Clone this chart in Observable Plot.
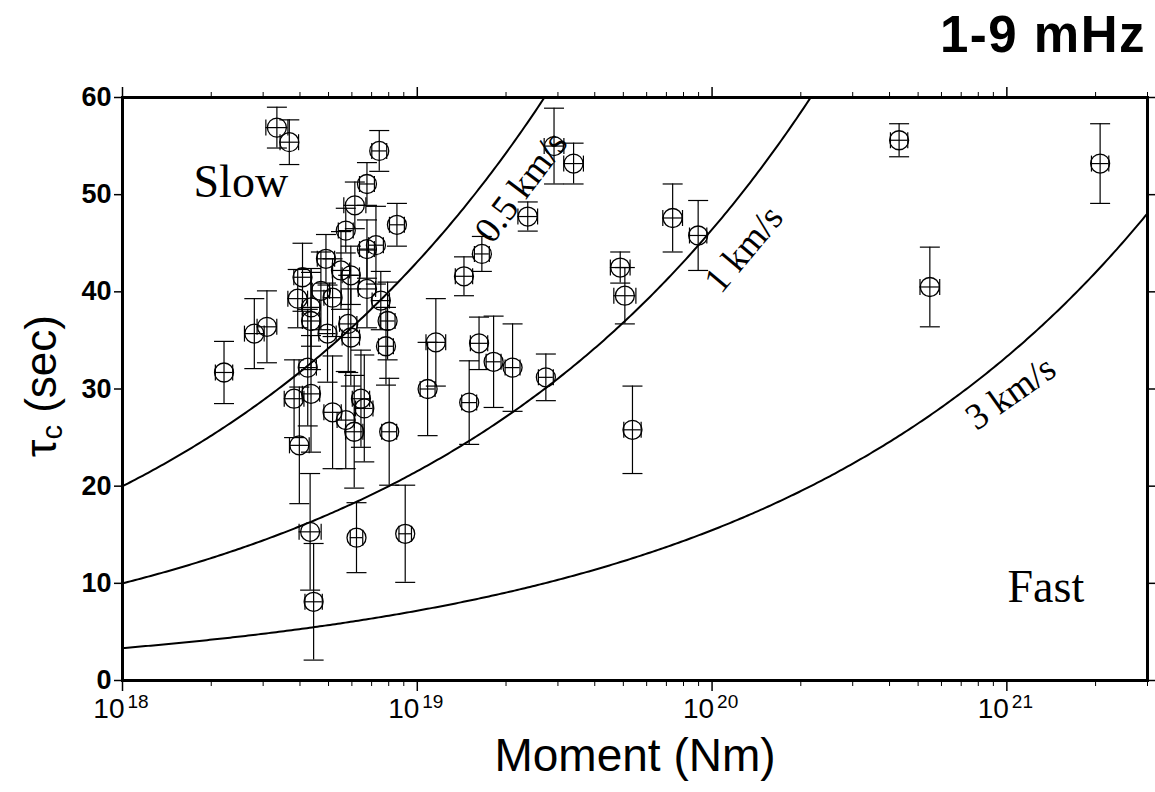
<!DOCTYPE html>
<html><head><meta charset="utf-8">
<script src="https://cdn.jsdelivr.net/npm/d3@7"></script>
<script src="https://cdn.jsdelivr.net/npm/@observablehq/plot@0.6"></script>
<style>
body{margin:0;background:#fff;}
#wrap{position:relative;width:1155px;height:792px;overflow:hidden;}
#title{position:absolute;right:9px;top:9px;font:bold 51px "Liberation Sans",Arial,Helvetica,sans-serif;letter-spacing:1.5px;line-height:1;}
</style></head><body>
<div id="wrap"><div id="chart"></div><div id="title">1-9 mHz</div></div>
<script>
// ---- data (moment in units of 1e18 Nm, tau in s) ----
const moment = [3.34,3.68,7.43,6.75,8.53,6.14,5.72,6.75,7.24,4.90,4.08,5.51,5.95,6.75,3.93,4.71,5.16,7.52,4.36,3.09,2.80,2.21,7.93,4.36,4.96,5.83,5.95,7.83,4.25,3.82,4.36,5.16,5.72,6.11,6.44,6.61,8.03,3.98,4.33,4.45,6.22,9.10,11.56,10.84,16.2,18.15,21.05,15.0,27.3,14.4,16.56,23.7,29.1,33.9,73.5,89.7,48.8,50.6,53.7,431,2072,548];
const tau = [56.9,55.4,54.5,51.1,46.9,48.9,46.3,44.4,44.8,43.4,41.5,42.2,41.7,40.3,39.3,40.1,39.4,39.1,38.4,36.4,35.7,31.7,37.0,37.0,35.7,36.7,35.3,34.4,32.2,29.0,29.5,27.6,26.8,25.6,29.0,28.0,25.6,24.2,15.3,8.1,14.7,15.1,34.8,30.0,34.7,32.8,32.2,28.6,31.2,41.6,43.9,47.75,55.0,53.2,47.6,45.8,42.5,39.6,25.8,55.6,53.2,40.5];
const tauErr = [2.1,2.3,2.1,2.2,2.2,2.4,2.3,3.0,4.0,2.5,3.5,4.0,3.0,4.0,3.0,4.0,4.0,3.0,4.0,3.7,3.6,3.2,4.0,5.0,5.0,5.0,5.0,4.0,6.0,4.0,6.0,5.8,5.0,5.8,5.0,5.5,5.5,6.0,6.0,6.0,3.6,5.0,4.5,4.8,2.7,4.7,4.5,4.3,2.4,2.0,1.8,1.5,3.9,2.1,3.5,3.6,1.6,2.9,4.5,1.7,4.1,4.1];
const momentErr = [0.09,0.075,0.06,0.06,0.06,0.09,0.06,0.06,0.06,0.07,0.07,0.07,0.07,0.07,0.08,0.07,0.07,0.07,0.07,0.08,0.08,0.07,0.06,0.07,0.07,0.07,0.07,0.06,0.07,0.08,0.07,0.07,0.07,0.07,0.07,0.07,0.06,0.08,0.09,0.07,0.05,0.05,0.08,0.06,0.07,0.06,0.06,0.06,0.06,0.07,0.06,0.08,0.08,0.08,0.08,0.07,0.08,0.09,0.07,0.07,0.07,0.08];
const velocities = [0.5, 1, 3];           // rupture-velocity model curves, km/s
const velocityLabels = ["0.5 km/s", "1 km/s", "3 km/s"];
const regionLabels = ["Slow", "Fast"];
const yTicks = [0, 10, 20, 30, 40, 50, 60];
const decades = [18, 19, 20, 21];

// ---- build tables ----
const points = moment.map((m, i) => ({
  m: m * 1e18, t: tau[i],
  lo: tau[i] - tauErr[i], hi: tau[i] + tauErr[i],
  mlo: m * 1e18 / (1 + momentErr[i]), mhi: m * 1e18 * (1 + momentErr[i])
}));
const xMin = 1e18, xMax = 3e21;
// tau = (10 s / v[km/s]) * (M / 1e18 Nm)^(1/3)
const curves = velocities.flatMap(v => d3.range(0, 401).map(i => {
  const m = xMin * Math.pow(xMax / xMin, i / 400);
  return {v, m, t: (10 / v) * Math.cbrt(m / 1e18)};
}));
const curveLabelPos = [
  {m: 22.5e18, t: 50.8, a: -53},
  {m: 128e18, t: 44.4, a: -50},
  {m: 1030e18, t: 29.6, a: -35}
];
const regionPos = [{m: 2.52e18, t: 51.3}, {m: 1356e18, t: 9.6}];
const majors = decades.map(d => 10 ** d);
const minors = decades.flatMap(d => d3.range(2, 10).map(k => k * 10 ** d)).filter(v => v <= xMax);

const hCap = {draw(ctx, size) { const r = Math.sqrt(size / Math.PI); ctx.moveTo(-r, 0); ctx.lineTo(r, 0); }};
const vCap = {draw(ctx, size) { const r = Math.sqrt(size / Math.PI); ctx.moveTo(0, -r); ctx.lineTo(0, r); }};
const serif = "'Liberation Serif','Times New Roman',Times,serif";
const blank = () => "";

const svg = Plot.plot({
  width: 1155, height: 792,
  marginTop: 97, marginBottom: 112, marginLeft: 122, marginRight: 8,
  style: {fontFamily: "'Liberation Sans',Arial,Helvetica,sans-serif", background: "white", color: "black"},
  x: {type: "log", domain: [xMin, xMax]},
  y: {domain: [0, 60]},
  marks: [
    Plot.line(curves, {x: "m", y: "t", z: "v", stroke: "black", strokeWidth: 2, clip: true}),
    Plot.ruleX(points, {x: "m", y1: "lo", y2: "hi", stroke: "black", strokeWidth: 1.2, clip: true}),
    Plot.ruleY(points, {y: "t", x1: "mlo", x2: "mhi", stroke: "black", strokeWidth: 1.2}),
    Plot.dot(points, {x: "m", y: "hi", symbol: hCap, r: 10, stroke: "black", fill: "none", strokeWidth: 1.2}),
    Plot.dot(points.filter(p => p.lo > 0.3), {x: "m", y: "lo", symbol: hCap, r: 10, stroke: "black", fill: "none", strokeWidth: 1.2}),
    Plot.dot(points, {x: "mlo", y: "t", symbol: vCap, r: 8, stroke: "black", fill: "none", strokeWidth: 1.2}),
    Plot.dot(points, {x: "mhi", y: "t", symbol: vCap, r: 8, stroke: "black", fill: "none", strokeWidth: 1.2}),
    Plot.dot(points, {x: "m", y: "t", r: 9.5, stroke: "black", fill: "none", strokeWidth: 1.3}),
    Plot.text(velocityLabels, {x: (d, i) => curveLabelPos[i].m, y: (d, i) => curveLabelPos[i].t, rotate: (d, i) => curveLabelPos[i].a, text: d => d, fontFamily: serif, fontSize: 37}),
    Plot.text(regionLabels, {x: (d, i) => regionPos[i].m, y: (d, i) => regionPos[i].t, text: d => d, fontFamily: serif, fontSize: 46}),
    Plot.frame({stroke: "black", strokeWidth: 3}),
    Plot.axisX(majors, {anchor: "bottom", tickSize: 11, tickFormat: blank, label: null, strokeWidth: 1.5}),
    Plot.axisX(minors, {anchor: "bottom", tickSize: 6, tickFormat: blank, label: null}),
    Plot.axisX(majors, {anchor: "top", tickSize: 11, tickFormat: blank, label: null, strokeWidth: 1.5}),
    Plot.axisX(minors, {anchor: "top", tickSize: 6, tickFormat: blank, label: null}),
    Plot.axisY(yTicks, {anchor: "left", tickSize: 8, tickPadding: 3, fontSize: 27, fontWeight: "bold", label: null, strokeWidth: 1.5}),
    Plot.axisY(yTicks, {anchor: "right", tickSize: 8, tickFormat: blank, label: null, strokeWidth: 1.5}),
    Plot.text(decades, {x: d => 10 ** d, text: () => "10", frameAnchor: "bottom", textAnchor: "end", dx: 2, dy: 37, fontSize: 28}),
    Plot.text(decades, {x: d => 10 ** d, text: d => String(d), frameAnchor: "bottom", textAnchor: "start", dx: 5, dy: 27, fontSize: 19}),
    Plot.text(["Moment (Nm)"], {frameAnchor: "bottom", text: d => d, dy: 90, fontSize: 46})
  ]
});

// y-axis title with subscript
const yl = d3.select(svg).append("text")
  .attr("transform", "translate(44,386) rotate(-90)")
  .attr("text-anchor", "middle").attr("dominant-baseline", "middle")
  .attr("font-family", "'Liberation Sans',Arial,Helvetica,sans-serif")
  .attr("font-size", 44).attr("fill", "black");
yl.append("tspan").text("τ");
yl.append("tspan").attr("font-size", 29).attr("dy", 10).text("c");
yl.append("tspan").attr("dy", -10).text(" (sec)");

document.getElementById("chart").appendChild(svg);
</script>
</body></html>
